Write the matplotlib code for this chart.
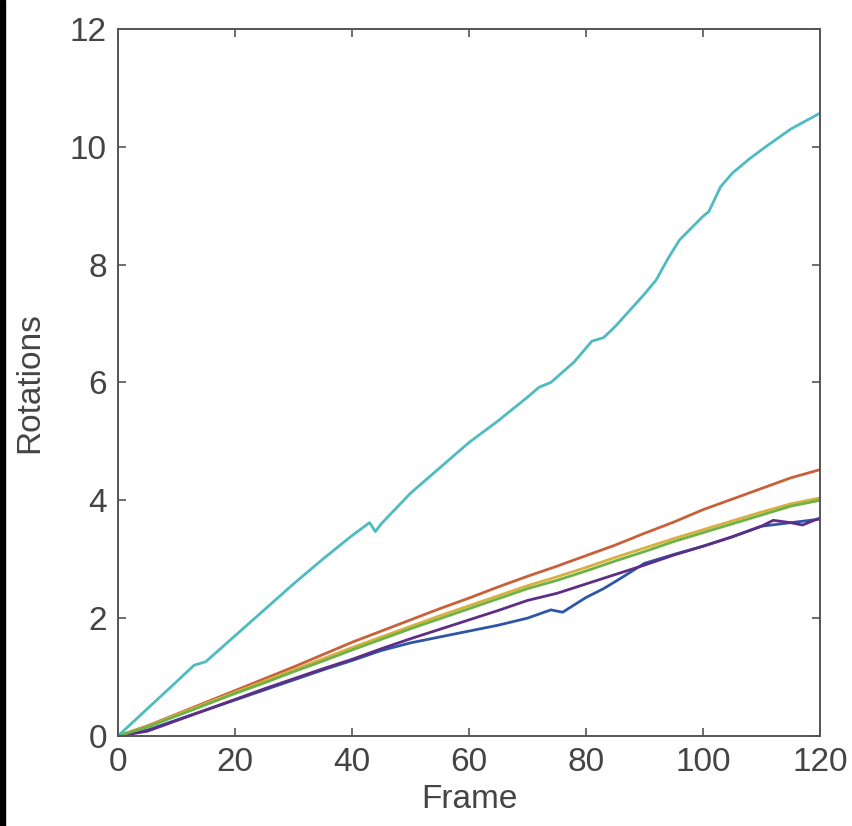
import matplotlib.pyplot as plt
from matplotlib.patches import Rectangle

plt.rcParams['font.family'] = ['Liberation Sans', 'DejaVu Sans']

# lower four curves share the same frame grid
frames = [0, 5, 10, 15, 20, 25, 30, 35, 40, 45, 50, 55, 60, 65, 70, 75, 80, 85, 90, 95, 100, 105, 110, 115, 120]

orange = [0, 0.17, 0.37, 0.57, 0.77, 0.97, 1.17, 1.38, 1.59, 1.78, 1.97, 2.16, 2.34, 2.53, 2.71, 2.88,
          3.06, 3.24, 3.44, 3.63, 3.84, 4.02, 4.2, 4.38, 4.52]
yellow = [0, 0.16, 0.36, 0.55, 0.74, 0.93, 1.12, 1.31, 1.5, 1.68, 1.86, 2.04, 2.21, 2.38, 2.55, 2.7,
          2.86, 3.03, 3.19, 3.35, 3.5, 3.65, 3.8, 3.94, 4.04]
green = [0, 0.15, 0.34, 0.53, 0.72, 0.9, 1.09, 1.27, 1.46, 1.64, 1.82, 1.99, 2.16, 2.33, 2.5, 2.64,
         2.8, 2.97, 3.13, 3.3, 3.45, 3.6, 3.75, 3.9, 4.0]

purple_f = [0, 5, 10, 15, 20, 25, 30, 35, 40, 45, 50, 55, 60, 65, 70, 75, 80, 85, 90, 95, 100, 105,
            110, 112, 115, 117, 120]
purple = [0, 0.08, 0.26, 0.44, 0.62, 0.8, 0.97, 1.14, 1.3, 1.48, 1.65, 1.81, 1.97, 2.13, 2.3, 2.42,
          2.58, 2.74, 2.9, 3.07, 3.22, 3.38, 3.56, 3.66, 3.62, 3.58, 3.7]

blue_f = [0, 5, 10, 15, 20, 25, 30, 35, 40, 45, 50, 55, 60, 65, 70, 74, 76, 80, 83, 86, 90, 95, 100,
          105, 110, 115, 120]
blue = [0, 0.1, 0.27, 0.44, 0.61, 0.78, 0.95, 1.12, 1.28, 1.45, 1.58, 1.68, 1.78, 1.88, 2.0, 2.14, 2.1,
        2.35, 2.5, 2.68, 2.93, 3.08, 3.22, 3.38, 3.56, 3.62, 3.68]

cyan_f = [0, 5, 10, 13, 15, 20, 25, 30, 35, 40, 43, 44, 45, 50, 55, 60, 65, 70, 72, 74, 78, 81, 83, 85,
          88, 90, 92, 94, 96, 98, 100, 101, 103, 105, 108, 111, 115, 120]
cyan = [0, 0.46, 0.92, 1.2, 1.26, 1.7, 2.14, 2.58, 3.0, 3.4, 3.62, 3.47, 3.6, 4.12, 4.55, 4.98, 5.35,
        5.75, 5.92, 6.0, 6.35, 6.7, 6.76, 6.95, 7.28, 7.5, 7.74, 8.1, 8.42, 8.62, 8.82, 8.9, 9.32, 9.55,
        9.8, 10.02, 10.3, 10.57]

fig = plt.figure(figsize=(8.53, 8.26), dpi=100)
fig.patches.append(Rectangle((0, 0), 0.006, 1, transform=fig.transFigure, color='black'))
ax = fig.add_axes([0.1383, 0.109, 0.823, 0.856])

lw = 2.0
ax.plot(blue_f, blue, color='#2E55A8', lw=lw)
ax.plot(frames, orange, color='#C9603A', lw=lw)
ax.plot(frames, yellow, color='#D8B040', lw=lw)
ax.plot(purple_f, purple, color='#5E2E86', lw=lw)
ax.plot(frames, green, color='#6DB244', lw=lw)
ax.plot(cyan_f, cyan, color='#4DBCC2', lw=lw)

ax.set_xlim(0, 120)
ax.set_ylim(0, 12)
ax.set_xticks(range(0, 121, 20))
ax.set_yticks(range(0, 13, 2))
ax.tick_params(direction='in', top=True, right=True, length=6, width=1.2,
               labelsize=24, labelcolor='#444444', color='#555555', pad=8)
for s in ax.spines.values():
    s.set_color('#555555')
    s.set_linewidth(1.4)

ax.set_xlabel('Frame', fontsize=24, color='#444444', labelpad=4)
ax.set_ylabel('Rotations', fontsize=24, color='#444444', labelpad=18)

fig.savefig('out.png', dpi=100)
